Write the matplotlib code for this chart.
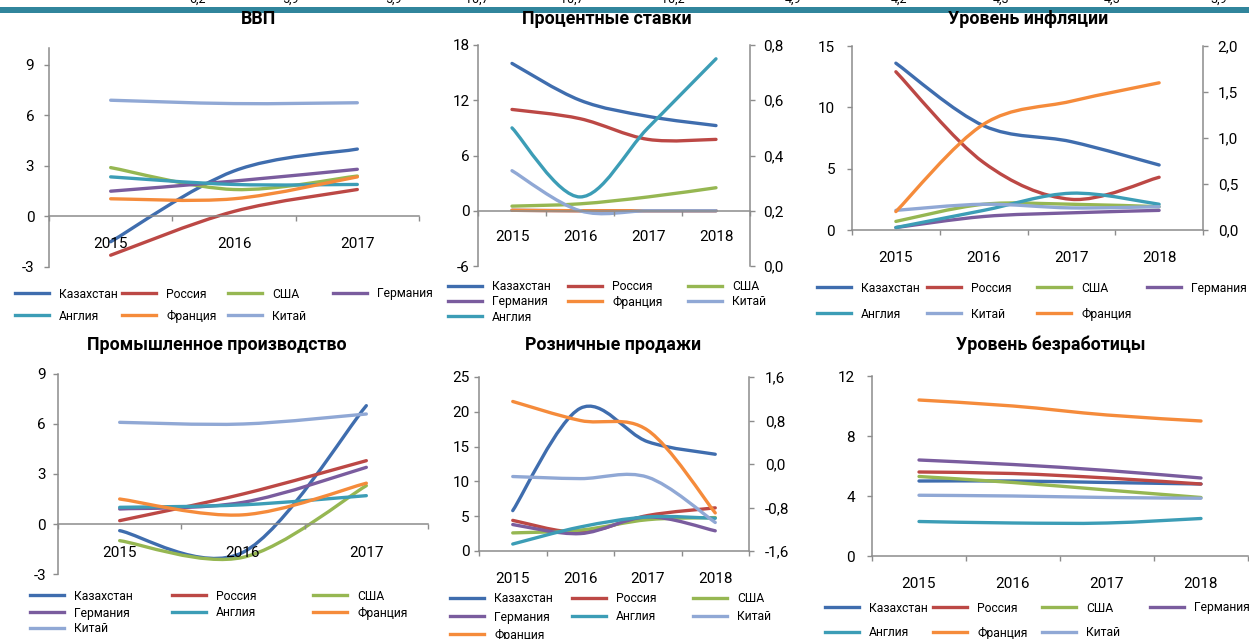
import numpy as np
import matplotlib
matplotlib.use('Agg')
import matplotlib.pyplot as plt
from matplotlib.path import Path
from matplotlib.patches import PathPatch, Rectangle
from matplotlib.lines import Line2D

plt.rcParams['font.family'] = ['Roboto', 'DejaVu Sans']

# --- data ---
years3 = ['2015', '2016', '2017']
years4 = ['2015', '2016', '2017', '2018']

gdp = {
    'Казахстан': [-1.5, 2.7, 4.0],
    'Россия': [-2.3, 0.3, 1.6],
    'США': [2.9, 1.6, 2.4],
    'Германия': [1.5, 2.1, 2.8],
    'Англия': [2.35, 1.9, 1.9],
    'Франция': [1.05, 1.05, 2.35],
    'Китай': [6.9, 6.7, 6.75],
}
rates = {
    'Казахстан': [16.0, 12.0, 10.25, 9.25],
    'Россия': [11.0, 10.0, 7.75, 7.75],
    'США': [0.5, 0.75, 1.5, 2.5],
    'Германия': [0.05, 0.0, 0.0, 0.0],
    'Франция': [0.05, 0.0, 0.0, 0.0],
    'Китай': [4.35, 0.0, 0.0, 0.0],
}
rates_right = {'Англия': [0.5, 0.25, 0.5, 0.75]}

inflation = {
    'Казахстан': [13.6, 8.5, 7.2, 5.3],
    'Россия': [12.9, 5.5, 2.5, 4.3],
    'США': [0.7, 2.1, 2.1, 1.9],
    'Германия': [0.2, 1.1, 1.4, 1.6],
    'Англия': [0.2, 1.6, 3.0, 2.1],
    'Китай': [1.6, 2.1, 1.8, 1.9],
}
inflation_right = {'Франция': [0.2, 1.15, 1.4, 1.6]}

industry = {
    'Казахстан': [-0.4, -1.7, 7.1],
    'Россия': [0.2, 1.8, 3.8],
    'США': [-1.0, -2.0, 2.3],
    'Германия': [0.9, 1.3, 3.4],
    'Англия': [1.0, 1.15, 1.7],
    'Франция': [1.5, 0.55, 2.45],
    'Китай': [6.1, 6.0, 6.6],
}
retail = {
    'Казахстан': [5.8, 20.5, 15.7, 13.9],
    'Россия': [4.4, 2.7, 5.1, 6.2],
    'США': [2.6, 3.0, 4.5, 4.8],
    'Германия': [3.8, 2.5, 4.9, 2.9],
    'Англия': [1.0, 3.45, 4.9, 4.7],
    'Китай': [10.7, 10.4, 10.6, 4.1],
}
retail_right = {'Франция': [1.15, 0.8, 0.62, -0.9]}

unemployment = {
    'Казахстан': [5.0, 5.0, 4.9, 4.8],
    'Россия': [5.6, 5.5, 5.2, 4.8],
    'США': [5.3, 4.9, 4.4, 3.9],
    'Германия': [6.4, 6.1, 5.7, 5.2],
    'Англия': [2.3, 2.2, 2.2, 2.5],
    'Франция': [10.4, 10.0, 9.4, 9.0],
    'Китай': [4.05, 4.0, 3.9, 3.85],
}

# cut-off numbers of the table above the charts
top_numbers = ['6,2', '5,9', '5,9', '10,7', '10,7', '10,2', '4,9', '4,2', '4,3', '4,5', '3,9']
top_numbers_x = [197, 290, 393, 477, 572, 673, 793, 899, 1001, 1112, 1219]

colors = {
    'Казахстан': '#3F6DAE',
    'Россия': '#BC4845',
    'США': '#96B752',
    'Германия': '#7A5C9E',
    'Англия': '#3C9DB6',
    'Франция': '#F58B3B',
    'Китай': '#90A8D5',
}

GRAY = '#8C8C8C'
LW = 2.4
W, H = 1249, 639
fig = plt.figure(figsize=(W / 100, H / 100), dpi=100)


def box(l, t, r, b):
    return [l / W, 1 - b / H, (r - l) / W, (b - t) / H]


def smooth(vals):
    # Excel-like smoothed line: cubic bezier through the points
    pts = np.column_stack([np.arange(len(vals)), vals]).astype(float)
    n = len(pts)
    verts = [pts[0]]
    codes = [Path.MOVETO]
    for i in range(n - 1):
        p0 = pts[i - 1] if i > 0 else pts[i]
        p1, p2 = pts[i], pts[i + 1]
        p3 = pts[i + 2] if i + 2 < n else pts[i + 1]
        verts += [p1 + (p2 - p0) / 6, p2 - (p3 - p1) / 6, p2]
        codes += [Path.CURVE4] * 3
    return Path(verts, codes)


def draw(ax, data):
    for name, vals in data.items():
        ax.add_patch(PathPatch(smooth(vals), fill=False, edgecolor=colors[name], lw=LW,
                               capstyle='round', joinstyle='round'))


def fmt(v, comma):
    if comma:
        return ('%.1f' % v).replace('.', ',')
    return '%g' % v


def panel(rect, title, title_xy, cats, data, ylim, ystep, ypad, xpad,
          right=None, rlim=None, rstep=None, rpad=None):
    ax = fig.add_axes(box(*rect))
    n = len(cats)
    ax.set_xlim(-0.5, n - 0.5)
    ax.set_ylim(*ylim)
    for sp in ['top', 'right']:
        ax.spines[sp].set_visible(False)
    ax.spines['bottom'].set_position(('data', 0))
    for sp in ['left', 'bottom']:
        ax.spines[sp].set_color(GRAY)
        ax.spines[sp].set_linewidth(1.1)
    yt = np.arange(ylim[0], ylim[1] + 1e-9, ystep)
    ax.set_yticks(yt)
    ax.set_yticklabels([fmt(v, False) for v in yt])
    ax.tick_params(axis='y', direction='out', length=3.6, width=1, color=GRAY,
                   labelsize=11, pad=ypad)
    ax.set_xticks(range(n))
    ax.set_xticklabels(cats)
    ax.set_xticks(np.arange(n + 1) - 0.5, minor=True)
    ax.tick_params(axis='x', which='major', length=0, labelsize=11, pad=xpad)
    ax.tick_params(axis='x', which='minor', direction='out', length=3.6, width=1, color=GRAY)
    draw(ax, data)
    if right is not None:
        ax2 = ax.twinx()
        ax2.set_ylim(*rlim)
        for sp in ['top', 'left', 'bottom']:
            ax2.spines[sp].set_visible(False)
        ax2.spines['right'].set_color(GRAY)
        ax2.spines['right'].set_linewidth(1.1)
        rt = np.arange(rlim[0], rlim[1] + 1e-9, rstep)
        ax2.set_yticks(rt)
        ax2.set_yticklabels([fmt(v, True) for v in rt])
        ax2.tick_params(axis='y', direction='out', length=3.6, width=1, color=GRAY,
                        labelsize=11, pad=rpad)
        draw(ax2, right)
    fig.text(title_xy[0] / W, 1 - title_xy[1] / H, title, ha='center', va='center',
             fontsize=12.8, fontweight='bold')
    return ax


def legend(rows, cols_x, rows_y):
    for r, names in enumerate(rows):
        for c, name in enumerate(names):
            h = Line2D([0], [0], color=colors[name], lw=LW)
            fig.legend(handles=[h], labels=[name], loc='center left',
                       bbox_to_anchor=(cols_x[c] / W, 1 - rows_y[r] / H),
                       frameon=False, borderpad=0, borderaxespad=0,
                       handlelength=2.8, handletextpad=0.85, fontsize=8.7)


# top strip
fig.add_artist(Rectangle((0, 1 - 13 / H), 1, 6 / H, transform=fig.transFigure,
                         color='#31859C', lw=0))
for s, x in zip(top_numbers, top_numbers_x):
    fig.text(x / W, 1 - 3 / H, s, ha='center', va='baseline', fontsize=9)

panel((49, 48, 419, 267), 'ВВП', (258, 19), years3, gdp, (-3, 10), 3, 7, 15)
legend([['Казахстан', 'Россия', 'США', 'Германия'], ['Англия', 'Франция', 'Китай']],
       [15, 122, 228, 333], [294, 316])

panel((478, 45, 750, 266), 'Процентные ставки', (607, 19), years4, rates, (-6, 18), 6, 2.5, 14,
      right=rates_right, rlim=(0, 0.8), rstep=0.2, rpad=6)
legend([['Казахстан', 'Россия', 'США'], ['Германия', 'Франция', 'Китай'], ['Англия']],
       [448, 568, 688], [287, 302, 317])

panel((852, 46, 1203, 230), 'Уровень инфляции', (1028, 19), years4, inflation, (0, 15), 5, 8.5, 15,
      right=inflation_right, rlim=(0, 2), rstep=0.5, rpad=7)
legend([['Казахстан', 'Россия', 'США', 'Германия'], ['Англия', 'Китай', 'Франция']],
       [817, 927, 1037, 1147], [288, 314])

panel((58, 374, 428, 574), 'Промышленное производство', (217, 345), years3, industry, (-3, 9), 3, 5, 16)
legend([['Казахстан', 'Россия', 'США'], ['Германия', 'Англия', 'Франция'], ['Китай']],
       [30, 172, 313], [596, 613, 629])

panel((479, 377, 749, 551), 'Розничные продажи', (613, 345), years4, retail, (0, 25), 5, 3, 15,
      right=retail_right, rlim=(-1.6, 1.6), rstep=0.8, rpad=8)
legend([['Казахстан', 'Россия', 'США'], ['Германия', 'Англия', 'Китай'], ['Франция']],
       [450, 572, 693], [599, 617, 635])

panel((872, 376, 1248, 556), 'Уровень безработицы', (1051, 345), years4, unemployment, (0, 12), 4, 8.5, 15)
legend([['Казахстан', 'Россия', 'США', 'Германия'], ['Англия', 'Франция', 'Китай']],
       [825, 933, 1042, 1150], [608, 633])

fig.savefig('out.png', dpi=100)
